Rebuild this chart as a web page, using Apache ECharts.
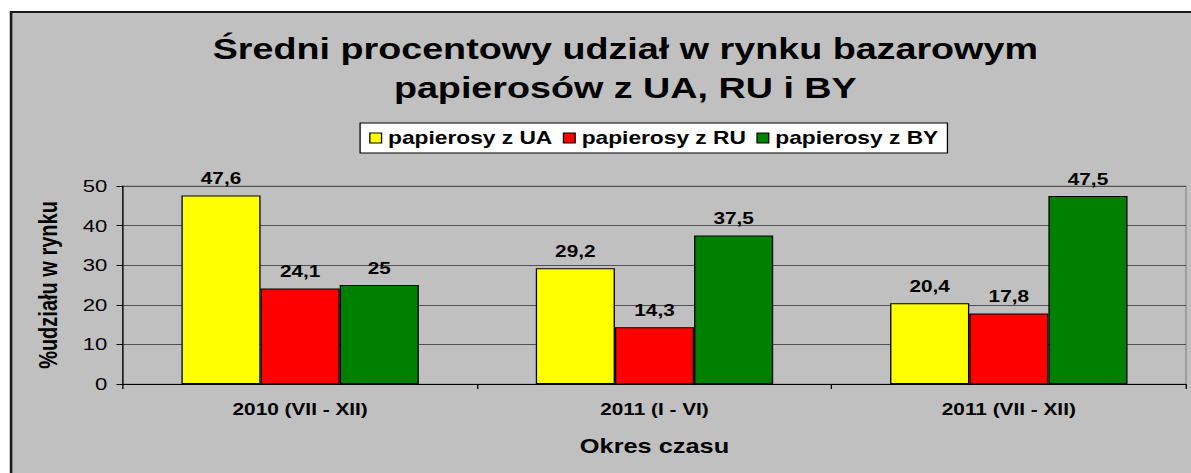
<!DOCTYPE html>
<html>
<head>
<meta charset="utf-8">
<script src="https://cdn.jsdelivr.net/npm/echarts@6/dist/echarts.min.js"></script>
<style>
  html, body { margin: 0; padding: 0; background: #fff; overflow: hidden; width: 1191px; height: 473px; }
  /* the reference is a horizontally stretched picture, so the chart is drawn narrower and stretched */
  #chart {
    width: 930px;
    height: 473px;
    transform: scaleX(1.3);
    transform-origin: 0 0;
  }
</style>
</head>
<body>
<div id="chart"></div>
<script>
const categories = ['2010 (VII - XII)', '2011 (I - VI)', '2011 (VII - XII)'];
const seriesNames = ['papierosy z UA', 'papierosy z RU', 'papierosy z BY'];
const valuesUA = [47.6, 29.2, 20.4];
const valuesRU = [24.1, 14.3, 17.8];
const valuesBY = [25, 37.5, 47.5];
const yMin = 0;
const yMax = 50;
const yStep = 10;

const colors = ['#ffff00', '#ff0000', '#008000'];
const font = '"Liberation Sans", Arial, sans-serif';

const chart = echarts.init(document.getElementById('chart'), null, { renderer: 'svg' });

const makeSeries = (name, data) => ({
    name: name,
    type: 'bar',
    data: data,
    barGap: '0%',
    barCategoryGap: '33%',
    itemStyle: {
        borderColor: '#000',
        borderWidth: 1
    },
    label: {
        show: true,
        position: 'top',
        distance: 9,
        color: '#000',
        fontFamily: font,
        fontWeight: 'bold',
        fontSize: 16,
        formatter: p => String(p.value).replace('.', ',')
    }
});

const option = {
    animation: false,
    color: colors,
    textStyle: { fontFamily: font },
    graphic: [{
        type: 'rect',
        silent: true,
        z: -100,
        shape: { x: 8.5, y: 12, width: 1200, height: 1000 },
        style: { fill: '#c0c0c0', stroke: '#1a1a1a', lineWidth: 2 }
    }],
    title: {
        text: 'Średni procentowy udział w rynku bazarowym\npapierosów z UA, RU i BY',
        left: 476,
        top: 25,
        textAlign: 'center',
        textStyle: {
            fontFamily: font,
            fontWeight: 'bold',
            fontSize: 29,
            lineHeight: 39,
            color: '#000'
        }
    },
    legend: {
        data: seriesNames,
        left: 277,
        top: 123,
        padding: [6, 7],
        backgroundColor: '#fff',
        borderColor: '#000',
        borderWidth: 1,
        icon: 'rect',
        itemWidth: 9,
        itemHeight: 10,
        itemGap: 8,
        itemStyle: { borderColor: '#000', borderWidth: 1 },
        textStyle: {
            fontFamily: font,
            fontWeight: 'bold',
            fontSize: 17.5,
            color: '#000'
        }
    },
    grid: {
        left: 94.6,
        right: 17.7,
        top: 186,
        bottom: 89,
        show: true,
        borderColor: '#8c8c8c',
        borderWidth: 1,
        backgroundColor: 'transparent'
    },
    xAxis: {
        type: 'category',
        data: categories,
        name: 'Okres czasu',
        nameLocation: 'middle',
        nameGap: 53,
        nameTextStyle: {
            fontFamily: font,
            fontWeight: 'bold',
            fontSize: 19.5,
            color: '#000'
        },
        axisLine: { lineStyle: { color: '#000', width: 1 } },
        axisTick: { show: true, length: 5, lineStyle: { color: '#000' } },
        axisLabel: {
            margin: 17,
            color: '#000',
            fontFamily: font,
            fontWeight: 'bold',
            fontSize: 16
        }
    },
    yAxis: {
        type: 'value',
        min: yMin,
        max: yMax,
        interval: yStep,
        name: '%udziału w rynku',
        nameLocation: 'middle',
        nameGap: 48,
        nameTextStyle: {
            fontFamily: font,
            fontWeight: 'bold',
            fontSize: 20,
            color: '#000'
        },
        axisLine: { show: true, lineStyle: { color: '#000', width: 1 } },
        axisTick: { show: true, length: 5, lineStyle: { color: '#000' } },
        axisLabel: {
            margin: 12,
            color: '#000',
            fontFamily: font,
            fontSize: 17
        },
        splitLine: { lineStyle: { color: '#505050', width: 1 } }
    },
    series: [
        makeSeries(seriesNames[0], valuesUA),
        makeSeries(seriesNames[1], valuesRU),
        makeSeries(seriesNames[2], valuesBY)
    ]
};

chart.setOption(option);
</script>
</body>
</html>
